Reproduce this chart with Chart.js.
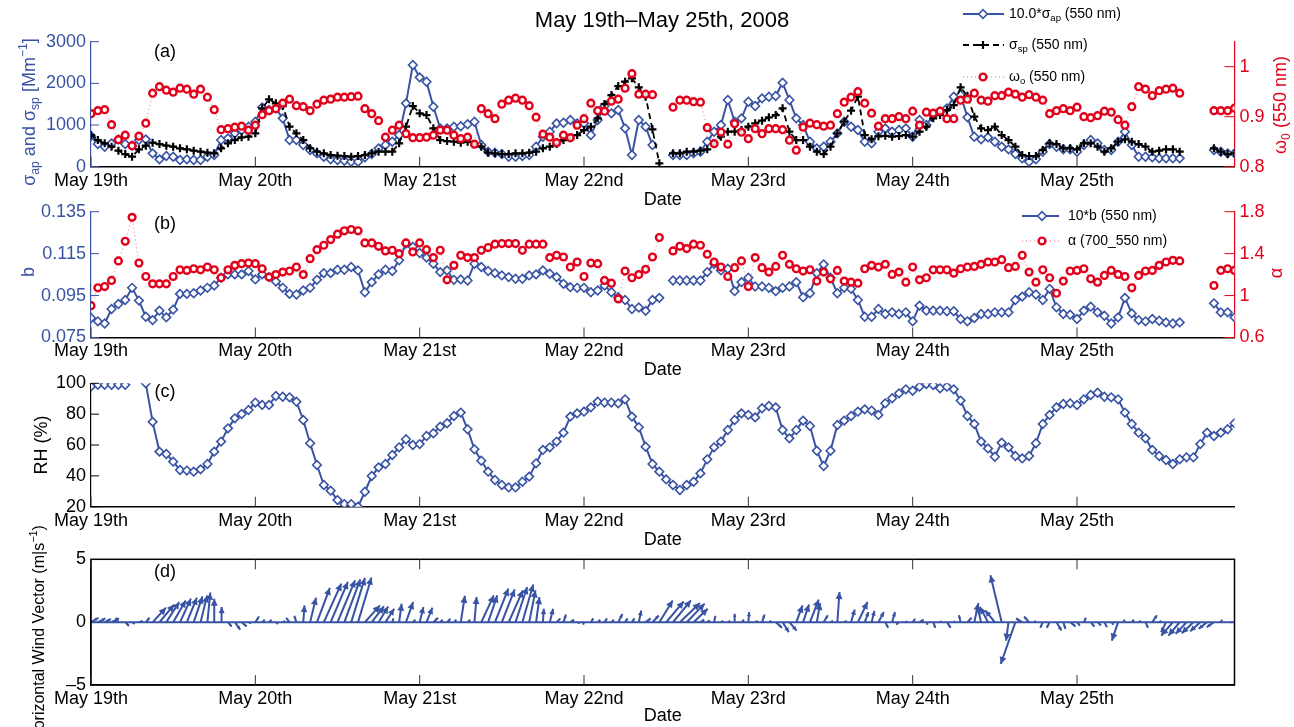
<!DOCTYPE html>
<html>
<head>
<meta charset="utf-8">
<script src="https://cdn.jsdelivr.net/npm/chart.js@4.4.1/dist/chart.umd.min.js"></script>
<style>
body { margin: 0; background: #fff; width: 1294px; height: 727px; overflow: hidden; position: relative; }
canvas { position: absolute; left: 0; }
</style>
</head>
<body>
<canvas id="ca" width="1294" height="211" style="top:0px"></canvas>
<canvas id="cb" width="1294" height="191" style="top:190px"></canvas>
<canvas id="cc" width="1294" height="191" style="top:360px"></canvas>
<canvas id="cd" width="1294" height="217" style="top:510px"></canvas>
<script>
// hourly samples, hour 0 = May 19th 00:00
const dayTicks = [0, 24, 48, 72, 96, 120, 144];
const dayLabels = ['May 19th', 'May 20th', 'May 21st', 'May 22nd', 'May 23rd', 'May 24th', 'May 25th'];

// (a) 10*sigma_ap, sigma_sp [Mm-1], omega0
const sigmaAp10 = [736,544,480,560,656,544,504,640,656,320,
  176,256,240,160,176,160,160,240,280,640,
  680,800,880,960,1080,1424,1360,1400,1160,640,
  640,520,400,320,240,176,160,144,120,120,
  224,304,440,520,600,760,1520,2440,2144,2040,
  1440,920,920,960,970,1020,1080,520,360,336,
  304,240,240,256,280,480,720,840,1040,1056,
  1120,1040,1040,760,1120,1456,1280,1360,920,280,
  1120,960,520,null,null,280,280,280,320,360,
  600,840,1000,1600,1080,1160,1560,1456,1640,1680,
  1696,2016,1600,1160,1000,600,440,480,600,800,
  1080,960,880,600,560,840,920,840,880,920,
  720,1120,1000,1240,1320,1400,1680,1720,1184,720,
  656,704,600,480,416,304,200,120,176,360,
  544,480,416,416,360,520,640,560,400,400,
  600,840,520,240,240,224,200,200,200,200,
  null,null,null,null,400,360,320,320];
const sigmaSp = [760,640,560,480,384,304,240,416,504,576,
  544,504,480,440,416,384,360,336,320,440,
  560,640,704,720,800,1400,1616,1520,1456,960,
  800,640,440,360,320,280,264,256,240,256,
  280,320,360,360,360,560,960,1456,1280,1240,
  920,640,616,600,576,600,544,480,336,320,
  304,304,320,320,336,360,440,480,544,640,
  680,760,880,960,1160,1504,1720,1936,2040,2120,
  1904,1680,896,80,null,320,320,360,360,384,
  416,560,720,840,840,880,960,1040,1104,1184,
  1240,1400,840,640,640,480,360,304,480,800,
  1080,1344,1680,760,660,730,740,720,736,760,
  720,840,960,1160,1240,1360,1480,1904,1700,1200,
  920,880,960,760,640,480,280,256,256,400,
  560,544,440,440,416,560,560,480,360,440,
  600,656,600,544,480,360,384,416,416,360,
  null,null,null,null,440,360,304,320];
const omega0 = [.906,.912,.914,.884,.854,.863,.842,.861,.887,.947,
  .960,.953,.949,.957,.955,.945,.955,.939,.914,.874,
  .876,.879,.881,.873,.883,.904,.912,.916,.927,.935,
  .922,.920,.912,.925,.933,.935,.939,.939,.940,.941,
  .916,.906,.892,.859,.873,.883,.866,.858,.858,.859,
  .863,.873,.873,.863,.856,.859,.845,.916,.906,.896,
  .925,.933,.937,.933,.922,.899,.865,.859,.848,.863,
  .858,.883,.896,.927,.912,.911,.931,.935,.957,.986,
  .945,.945,.944,null,null,.919,.933,.933,.930,.929,
  .878,.846,.869,.845,.886,.869,.856,.876,.866,.876,
  .876,.874,.853,.833,.879,.887,.884,.881,.883,.906,
  .929,.939,.950,.927,.907,.881,.896,.896,.900,.896,
  .911,.883,.909,.907,.911,.896,.896,.933,.935,.947,
  .933,.931,.942,.942,.949,.945,.939,.944,.939,.933,
  .906,.912,.916,.912,.919,.900,.898,.902,.911,.909,
  .894,.883,.920,.960,.955,.942,.952,.955,.957,.947,
  null,null,null,null,.912,.912,.912,.917];

// (b) backscatter fraction b, Angstrom exponent alpha
const bFrac = [.0843,.0827,.0817,.0886,.0910,.0929,.0987,.0926,.0849,.0833,
  .0878,.0846,.0883,.0958,.0958,.0961,.0974,.0987,.0998,.1035,
  .1051,.1051,.1051,.1067,.1027,.1051,.1038,.1017,.0987,.0958,
  .0955,.0974,.0987,.1025,.1057,.1057,.1073,.1073,.1086,.1070,
  .0966,.1014,.1051,.1073,.1067,.1118,.1198,.1182,.1153,.1131,
  .1102,.1062,.1070,.1025,.1027,.1022,.1102,.1086,.1067,.1057,
  .1046,.1038,.1030,.1030,.1046,.1051,.1070,.1054,.1038,.1006,
  .0990,.0987,.0987,.0966,.0974,.0998,.0966,.0942,.0929,.0886,
  .0893,.0877,.0929,.0939,null,.1022,.1022,.1022,.1022,.1022,
  .1062,.1102,.1070,.1078,.0971,.1014,.1035,.0993,.0993,.0987,
  .0971,.0987,.0993,.1014,.0942,.0961,.1057,.1099,.1035,.0961,
  .0987,.0982,.0929,.0849,.0849,.0886,.0862,.0870,.0862,.0870,
  .0827,.0902,.0878,.0878,.0878,.0875,.0875,.0838,.0827,.0843,
  .0862,.0862,.0870,.0870,.0870,.0929,.0945,.0966,.0955,.0929,
  .0982,.0894,.0862,.0859,.0838,.0878,.0897,.0870,.0854,.0817,
  .0846,.0939,.0865,.0833,.0827,.0838,.0830,.0822,.0817,.0822,
  null,null,null,null,.0913,.0870,.0870,.0846];
const alpha = [.904,1.074,1.086,1.144,1.33,1.518,1.746,1.31,1.182,1.112,
  1.112,1.112,1.182,1.246,1.24,1.256,1.246,1.272,1.246,1.17,
  1.246,1.288,1.304,1.31,1.304,1.256,1.176,1.2,1.224,1.234,
  1.272,1.2,1.352,1.438,1.48,1.534,1.586,1.618,1.63,1.618,
  1.502,1.502,1.47,1.426,1.432,1.4,1.502,1.416,1.502,1.438,
  1.362,1.432,1.15,1.288,1.384,1.362,1.362,1.432,1.458,1.49,
  1.496,1.496,1.496,1.432,1.49,1.49,1.49,1.362,1.384,1.368,
  1.272,1.32,1.182,1.31,1.304,1.144,1.118,.968,1.234,1.17,
  1.2,1.25,1.368,1.554,null,1.426,1.47,1.448,1.49,1.48,
  1.394,1.32,1.272,1.182,1.266,1.33,1.086,1.362,1.266,1.224,
  1.278,1.384,1.298,1.256,1.234,1.246,1.138,1.224,1.16,1.24,
  1.138,1.128,1.118,1.256,1.288,1.272,1.298,1.202,1.224,1.128,
  1.272,1.15,1.17,1.246,1.246,1.246,1.214,1.256,1.272,1.278,
  1.298,1.32,1.32,1.342,1.266,1.278,1.384,1.224,1.128,1.246,
  1.17,1.022,1.138,1.234,1.24,1.256,1.16,1.128,1.192,1.24,
  1.202,1.182,1.074,1.192,1.234,1.24,1.288,1.32,1.336,1.33,
  null,null,null,null,1.096,1.24,1.256,1.24];

// (c) relative humidity %
const relHum = [98,99,99,99,99,99,null,null,100,75,
  55.7,54.2,49.2,43.8,43.4,42.7,44.2,47.7,55.7,62.2,
  70.8,77.3,80.1,82.7,87.5,86,86,91.8,91.3,90.9,
  88.1,76.2,61.1,47,34.1,30.4,24.3,21.7,21.7,20,
  29.7,39.9,45.5,47.7,53.5,58.5,63.7,60,60.6,65.8,
  67.6,71.9,74.1,78.8,81,70.2,57.2,49.8,42.7,37.3,
  34.1,32.5,32.5,36.2,39.5,48.1,56.8,58.5,62.2,68,
  78.4,80.5,81.6,84.4,88.1,87.5,87.5,87,89.6,78.4,
  71.5,58.9,47.7,42.7,37.7,34.1,30.8,34.1,36.2,41.6,
  50.7,58.5,62.2,69.7,76.2,80.5,79.5,77.9,83.8,85.3,
  84.4,69.7,64.3,69.7,75.8,72.3,56.3,46.4,56.3,73,
  75.8,78.8,81.6,83.1,82.3,79.5,87,90.3,93.5,96.1,
  95.2,97.8,99.5,98.9,96.8,97.8,96.1,88.8,78.8,73.6,
  62.2,57.8,52.4,61.5,58.5,52.9,51.3,52.9,61.1,73.6,
  79.5,84.4,86.6,87,85.9,89.6,92.4,93.9,91.3,90.9,
  89.6,81,73.6,68,64.3,56.8,52.9,50.3,47.7,50.7,
  52,52,60.6,68,65.8,68,70.2,74.1];

// (d) wind components, m/s
const windU = [0.6,0.6,0.5,0.6,-0.2,0.3,0.2,0.3,0.3,1.07,
  1.17,1.03,1.0,0.87,0.8,0.7,0.53,0.23,0.0,0.07,
  0.3,0.43,0.4,0.2,0.3,0.2,0.2,0.17,0.2,-0.27,
  -0.17,0.1,0.47,1.03,1.4,1.37,1.4,1.27,1.1,1.07,
  1.2,0.97,0.77,0.7,0.1,0.2,0.57,0.2,0.3,0.47,
  0.37,0.2,0.27,0.2,0.33,0.2,0.17,1.0,0.73,1.07,
  1.03,1.13,0.93,0.87,0.5,0.27,0.07,0.27,0.3,0.2,
  0.3,0.2,-0.07,0.2,0.2,0.2,0.2,0.33,0.2,0.2,
  0.2,0.4,0.5,1.07,1.4,1.43,1.6,1.43,1.13,0.3,
  0.2,0.1,0.2,0.2,0.0,0.2,0.07,0.2,0.2,0.2,
  0.5,0.5,0.57,0.5,0.47,0.7,0.27,0.33,0.2,0.17,
  0.2,0.3,0.77,0.3,0.23,0.43,0.23,0.23,-0.2,0.1,
  0.2,0.33,0.1,0.17,0.1,0.3,0.1,-0.13,0.33,0.33,
  -0.33,-0.63,-0.77,-0.9,-0.2,-1.17,-0.5,-0.4,-0.13,-0.2,
  -0.23,0.4,0.17,0.43,0.23,0.17,0.3,0.27,0.2,0.17,
  -0.5,-0.1,0.17,0.2,0.2,0.37,0.17,-0.4,-0.93,-0.9,
  -0.87,-0.93,-0.8,-0.67,-0.57,0.1,0.5,0.4];
const windV = [0.35,0.3,0.25,0.3,0.35,-0.3,-0.15,0.1,0.35,1.15,
  1.4,1.6,1.73,1.87,1.95,2.05,2.13,2.35,1.87,1.2,
  -0.35,-0.6,-0.35,-0.1,0.45,0.2,0.2,-0.15,0.1,0.35,
  0.5,1.33,1.95,2.72,3.07,3.2,3.33,3.4,3.52,3.55,
  1.33,1.25,1.25,1.07,0.3,1.47,1.6,0.2,1.2,1.15,
  0.35,0.2,0.27,0.2,2.1,0.2,2.0,2.13,2.13,2.67,
  2.6,2.53,2.8,3.0,2.53,2.0,1.07,1.07,0.3,0.6,
  0.2,-0.1,-0.2,0.3,0.2,0.3,0.2,0.65,0.3,0.3,
  0.93,0.3,0.53,1.73,1.65,1.73,1.52,1.47,1.07,0.2,
  0.15,0.5,0.1,0.1,0.67,0.2,0.8,0.1,0.6,0.1,
  -0.45,-0.8,-0.67,1.33,1.4,1.8,1.52,0.55,0.1,2.4,
  0.1,1.0,1.6,0.8,0.9,0.8,-0.45,0.8,-0.2,0.1,
  0.27,0.2,-0.2,-0.45,0.1,-0.45,0.1,0.55,0.35,1.52,
  1.33,1.2,0.93,3.73,-1.47,-3.33,0.3,0.45,0.1,-0.45,
  -0.45,-0.67,-0.55,-0.35,-0.27,0.35,-0.35,-0.27,-0.4,-0.2,
  -1.47,0.2,0.2,0.1,-0.45,0.55,0.1,-0.8,-1.07,-1.07,
  -0.93,-0.88,-0.72,-0.53,-0.4,0.2,0.0,0.0];
const quiverK = 1.83; // hours of x per m/s, same pixel scale as the y axis

const W = 1294, L = 91, R = 1234.5;
const BLUE = '#3953a4', RED = '#e3001b', PINK = 'rgba(238,96,118,0.9)';
const FONT = "'Liberation Sans', Arial, Helvetica, sans-serif";

Chart.defaults.font.family = FONT;
Chart.defaults.font.size = 18;
Chart.defaults.color = '#000';
Chart.defaults.animation = false;
Chart.defaults.events = [];
Chart.defaults.plugins.legend.display = false;
Chart.defaults.plugins.tooltip.enabled = false;

const blueStyle = { borderColor: BLUE, borderWidth: 2, pointStyle: 'rectRot', pointRadius: 4.3,
  pointBorderWidth: 1.6, pointBorderColor: BLUE, pointBackgroundColor: '#fff' };
const blackStyle = { borderColor: '#000', borderWidth: 1.8, borderDash: [6, 4], pointStyle: 'cross',
  pointRadius: 4, pointBorderWidth: 2.2, pointBorderColor: '#000', pointBackgroundColor: '#000' };
const redStyle = { borderColor: PINK, borderWidth: 1, borderDash: [1, 3], pointStyle: 'circle',
  pointRadius: 3.4, pointBorderWidth: 2.4, pointBorderColor: RED, pointBackgroundColor: 'rgba(255,255,255,0.85)' };

function pts(vals) {
  return vals.map((v, i) => ({ x: i, y: v }));
}

function drawRich(ctx, parts, x, y, size, color, rot, align) {
  ctx.save();
  ctx.translate(x, y);
  ctx.rotate(rot || 0);
  let w = 0;
  parts.forEach(([t, m]) => {
    ctx.font = (m ? size * 0.68 : size) + 'px ' + FONT;
    w += ctx.measureText(t).width;
  });
  let cx = align === 'left' ? 0 : -w / 2;
  ctx.textBaseline = 'middle';
  ctx.fillStyle = color;
  parts.forEach(([t, m]) => {
    const s = m ? size * 0.68 : size;
    ctx.font = s + 'px ' + FONT;
    const dy = m === 'sub' ? size * 0.32 : m === 'sup' ? -size * 0.38 : 0;
    ctx.fillText(t, cx, dy);
    cx += ctx.measureText(t).width;
  });
  ctx.restore();
}

// labels given in page coordinates, shifted by the canvas top
function textPlugin(top, items) {
  return { id: 'texts', afterDraw(chart) {
    items.forEach(it => drawRich(chart.ctx, it.parts, it.x, it.y - top, it.size || 18,
      it.color || '#000', it.rot || 0, it.align || 'center'));
  } };
}

// MATLAB style inward tick marks
function tickPlugin(specs) {
  return { id: 'inTicks', afterDraw(chart) {
    const ctx = chart.ctx, a = chart.chartArea;
    specs.forEach(sp => {
      const s = chart.scales[sp.scale];
      ctx.save();
      ctx.strokeStyle = sp.color;
      ctx.lineWidth = 1;
      s.ticks.forEach(t => {
        const p = s.getPixelForValue(t.value);
        ctx.beginPath();
        if (sp.side === 'bottom') { ctx.moveTo(p, a.bottom); ctx.lineTo(p, a.bottom - sp.len); }
        else if (sp.side === 'top') { ctx.moveTo(p, a.top); ctx.lineTo(p, a.top + sp.len); }
        else if (sp.side === 'left') { ctx.moveTo(a.left, p); ctx.lineTo(a.left + sp.len, p); }
        else { ctx.moveTo(a.right, p); ctx.lineTo(a.right - sp.len, p); }
        ctx.stroke();
      });
      ctx.restore();
    });
  } };
}

function legendPlugin(top, x0, x1, xm, xt, rows) {
  return { id: 'keys', afterDraw(chart) {
    const ctx = chart.ctx;
    rows.forEach(r => {
      const y = r.y - top, st = r.st;
      ctx.save();
      ctx.strokeStyle = st.borderColor;
      ctx.lineWidth = st.borderWidth;
      ctx.setLineDash(st.borderDash || []);
      ctx.beginPath(); ctx.moveTo(x0, y); ctx.lineTo(x1, y); ctx.stroke();
      ctx.setLineDash([]);
      ctx.strokeStyle = st.pointBorderColor;
      ctx.fillStyle = st.pointBackgroundColor;
      ctx.lineWidth = st.pointBorderWidth;
      Chart.helpers.drawPoint(ctx, { pointStyle: st.pointStyle, radius: st.pointRadius,
        rotation: 0, borderWidth: st.pointBorderWidth }, xm, y);
      ctx.restore();
      drawRich(ctx, r.parts, xt, y, 14, '#000', 0, 'left');
    });
  } };
}

function xAxis(tickPad, height) {
  return {
    type: 'linear', min: 0, max: 167,
    afterBuildTicks: s => { s.ticks = dayTicks.map(v => ({ value: v })); },
    afterFit: s => { s.height = height; },
    grid: { display: false, drawTicks: false },
    border: { display: true, color: '#000', width: 1.5 },
    ticks: { padding: tickPad, color: '#000', autoSkip: false, maxRotation: 0,
      callback: v => dayLabels[dayTicks.indexOf(v)] },
    title: { display: true, text: 'Date', color: '#000', padding: { top: 0, bottom: 0 } }
  };
}

function yAxis(pos, min, max, ticks, color) {
  return {
    type: 'linear', position: pos, min: min, max: max,
    afterBuildTicks: s => { s.ticks = ticks.map(v => ({ value: v })); },
    afterFit: s => { s.width = pos === 'left' ? L : W - R; },
    grid: { display: false, drawTicks: false },
    border: { display: true, color: color, width: 1.2 },
    ticks: { color: color, padding: 5, callback: v => String(v).replace('-', '\u2013') }
  };
}

const base = { responsive: false, devicePixelRatio: 1 };

// (a)
new Chart(document.getElementById('ca'), {
  type: 'line',
  data: { datasets: [
    Object.assign({ label: 'omega0', yAxisID: 'y1', order: 0, data: pts(omega0) }, redStyle),
    Object.assign({ label: 'sigma_sp', yAxisID: 'y', order: 1, data: pts(sigmaSp) }, blackStyle),
    Object.assign({ label: 'sigma_ap', yAxisID: 'y', order: 2, data: pts(sigmaAp10) }, blueStyle)
  ] },
  options: Object.assign({}, base, {
    layout: { padding: { top: 41.7, right: 0, left: 0, bottom: 0 } },
    scales: {
      x: xAxis(4, 211 - 166.7),
      y: yAxis('left', 0, 3000, [0, 1000, 2000, 3000], BLUE),
      y1: yAxis('right', 0.8, 1.05, [0.8, 0.9, 1], RED)
    }
  }),
  plugins: [
    tickPlugin([{ scale: 'x', side: 'bottom', len: 10, color: '#333' },
      { scale: 'y', side: 'left', len: 8, color: BLUE },
      { scale: 'y1', side: 'right', len: 10, color: RED }]),
    textPlugin(0, [
      { parts: [['May 19th\u2013May 25th, 2008', '']], x: 662, y: 21, size: 22 },
      { parts: [['(a)', '']], x: 165, y: 52 },
      { parts: [['\u03c3', ''], ['ap', 'sub'], [' and \u03c3', ''], ['sp', 'sub'], [' [Mm', ''], ['\u22121', 'sup'], [']', '']],
        x: 30, y: 112, color: BLUE, rot: -Math.PI / 2 },
      { parts: [['\u03c9', ''], ['0', 'sub'], [' (550 nm)', '']], x: 1281, y: 105, color: RED, rot: -Math.PI / 2 }
    ]),
    legendPlugin(0, 963, 1004, 983, 1009, [
      { y: 14, st: blueStyle, parts: [['10.0*\u03c3', ''], ['ap', 'sub'], [' (550 nm)', '']] },
      { y: 45, st: blackStyle, parts: [['\u03c3', ''], ['sp', 'sub'], [' (550 nm)', '']] },
      { y: 77, st: redStyle, parts: [['\u03c9', ''], ['o', 'sub'], [' (550 nm)', '']] }
    ])
  ]
});

// (b)
new Chart(document.getElementById('cb'), {
  type: 'line',
  data: { datasets: [
    Object.assign({ label: 'alpha', yAxisID: 'y1', order: 0, data: pts(alpha) }, redStyle),
    Object.assign({ label: 'b', yAxisID: 'y', order: 1, data: pts(bFrac) }, blueStyle)
  ] },
  options: Object.assign({}, base, {
    layout: { padding: { top: 21.7, right: 0, left: 0, bottom: 0 } },
    scales: {
      x: xAxis(3, 381 - 337.5),
      y: yAxis('left', 0.075, 0.135, [0.075, 0.095, 0.115, 0.135], BLUE),
      y1: yAxis('right', 0.6, 1.8, [0.6, 1, 1.4, 1.8], RED)
    }
  }),
  plugins: [
    tickPlugin([{ scale: 'x', side: 'bottom', len: 10, color: '#333' },
      { scale: 'y', side: 'left', len: 8, color: BLUE },
      { scale: 'y1', side: 'right', len: 10, color: RED }]),
    textPlugin(190, [
      { parts: [['(b)', '']], x: 165, y: 224 },
      { parts: [['b', '']], x: 29, y: 272, color: BLUE, rot: -Math.PI / 2 },
      { parts: [['\u03b1', '']], x: 1277, y: 273, color: RED, rot: -Math.PI / 2 }
    ]),
    legendPlugin(190, 1022, 1059, 1042, 1068, [
      { y: 216, st: blueStyle, parts: [['10*b (550 nm)', '']] },
      { y: 241, st: redStyle, parts: [['\u03b1 (700_550 nm)', '']] }
    ])
  ]
});

// (c)
new Chart(document.getElementById('cc'), {
  type: 'line',
  data: { datasets: [
    Object.assign({ label: 'RH', data: pts(relHum) }, blueStyle)
  ] },
  options: Object.assign({}, base, {
    layout: { padding: { top: 23.3, right: W - R, left: 0, bottom: 0 } },
    scales: {
      x: xAxis(4, 551 - 506.7),
      y: yAxis('left', 20, 100, [20, 40, 60, 80, 100], '#000')
    }
  }),
  plugins: [
    tickPlugin([{ scale: 'x', side: 'bottom', len: 10, color: '#333' },
      { scale: 'y', side: 'left', len: 8, color: '#000' }]),
    textPlugin(360, [
      { parts: [['(c)', '']], x: 165, y: 392 },
      { parts: [['RH (%)', '']], x: 42, y: 445, rot: -Math.PI / 2 }
    ])
  ]
});

// (d) quiver: each arrow runs from (hour, 0) to (hour + u*k, v); the shafts are chained along the zero line
const shaft = [];
windU.forEach((u, i) => {
  shaft.push({ x: i, y: 0 });
  shaft.push({ x: i + u * quiverK, y: windV[i] });
  shaft.push({ x: i, y: 0 });
});

const arrowHeads = { id: 'heads', afterDatasetsDraw(chart) {
  const xs = chart.scales.x, ys = chart.scales.y, ctx = chart.ctx, a = chart.chartArea;
  ctx.save();
  ctx.beginPath(); ctx.rect(a.left, a.top, a.right - a.left, a.bottom - a.top); ctx.clip();
  ctx.fillStyle = BLUE;
  windU.forEach((u, i) => {
    const x0 = xs.getPixelForValue(i), y0 = ys.getPixelForValue(0);
    const x1 = xs.getPixelForValue(i + u * quiverK), y1 = ys.getPixelForValue(windV[i]);
    const dx = x1 - x0, dy = y1 - y0, len = Math.hypot(dx, dy);
    if (len < 1.5) return;
    const hl = Math.min(7, len * 0.4), hw = hl * 0.5, ux = dx / len, uy = dy / len;
    ctx.beginPath();
    ctx.moveTo(x1, y1);
    ctx.lineTo(x1 - ux * hl - uy * hw, y1 - uy * hl + ux * hw);
    ctx.lineTo(x1 - ux * hl + uy * hw, y1 - uy * hl - ux * hw);
    ctx.closePath();
    ctx.fill();
  });
  ctx.restore();
} };

const boxPlugin = { id: 'box', afterDraw(chart) {
  const a = chart.chartArea, ctx = chart.ctx;
  ctx.save();
  ctx.strokeStyle = '#000'; ctx.lineWidth = 1.5;
  ctx.strokeRect(a.left, a.top, a.right - a.left, a.bottom - a.top);
  ctx.restore();
} };

new Chart(document.getElementById('cd'), {
  type: 'line',
  data: { datasets: [
    { label: 'wind', data: shaft, borderColor: BLUE, borderWidth: 2, pointRadius: 0, tension: 0 }
  ] },
  options: Object.assign({}, base, {
    layout: { padding: { top: 49.3, right: W - R, left: 0, bottom: 0 } },
    scales: {
      x: xAxis(3.5, 727 - 685),
      y: yAxis('left', -5, 5, [-5, 0, 5], '#000')
    }
  }),
  plugins: [
    arrowHeads,
    boxPlugin,
    tickPlugin([{ scale: 'x', side: 'bottom', len: 10, color: '#333' },
      { scale: 'x', side: 'top', len: 10, color: '#333' }]),
    textPlugin(510, [
      { parts: [['(d)', '']], x: 165, y: 572 },
      { parts: [['Horizontal Wind Vector (m|s', ''], ['\u22121', 'sup'], [')', '']],
        x: 40, y: 633, size: 16, rot: -Math.PI / 2 }
    ])
  ]
});
</script>
</body>
</html>
